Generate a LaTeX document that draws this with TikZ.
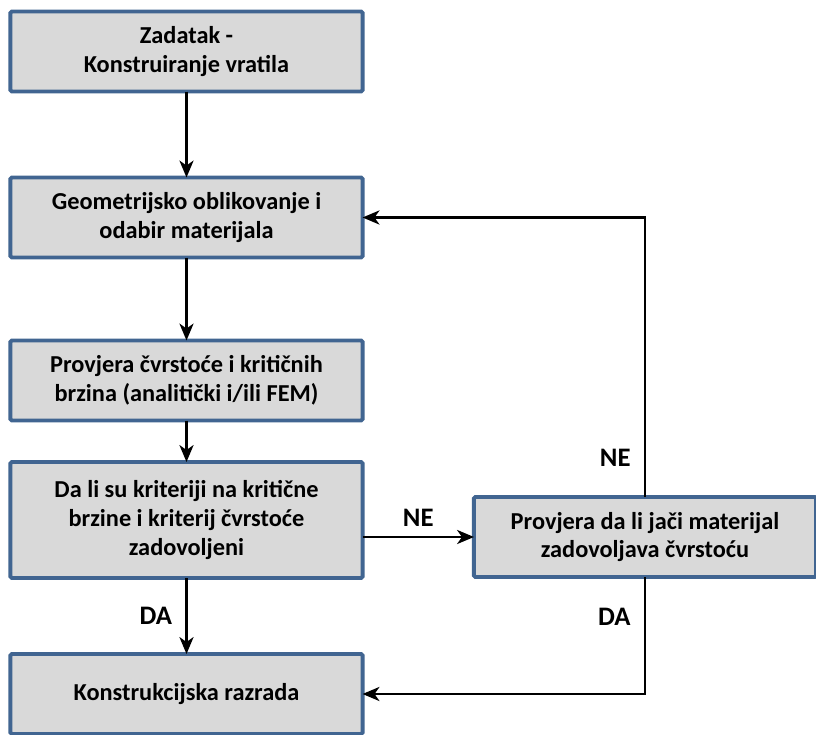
\documentclass[tikz,border=0pt]{standalone}
\usepackage{fontspec}
\setmainfont{Carlito}
\usepackage{tikz}
\usetikzlibrary{arrows.meta, positioning, calc}
\definecolor{okvirplava}{RGB}{65, 101, 145}
\definecolor{poljesiva}{RGB}{217, 217, 217}

\begin{document}
\begin{tikzpicture}[x=0.025cm, y=-0.025cm,
    korak/.style={draw=okvirplava, fill=poljesiva, line width=2.8pt, rounded corners=1pt,
      minimum width=8.8cm, minimum height=2cm, align=center, outer sep=0pt,
      font=\fontsize{17.3}{20.5}\selectfont\bfseries},
    strelica/.style={line width=1.8pt, -{Stealth[length=12pt, width=10pt, inset=3.5pt]}},
    oznaka/.style={font=\fontsize{19}{22}\selectfont\bfseries}]
  \useasboundingbox (0,0) rectangle (816,735);

  % Koraci postupka
  \node[korak] (zadatak) at (186.5, 51.5) {Zadatak -\\Konstruiranje vratila};
  \node[korak] (oblik) at (186.5, 217.5) {Geometrijsko oblikovanje i\\odabir materijala};
  \node[korak] (provjera) at (186.5, 380.5) {Provjera čvrstoće i kritičnih\\brzina (analitički i/ili FEM)};
  \node[korak, minimum height=2.9cm] (kriterij) at (186.5, 520) {Da li su kriteriji na kritične\\brzine i kriterij čvrstoće\\zadovoljeni};
  \node[korak] (razrada) at (186.5, 694) {Konstrukcijska razrada};
  \node[korak, minimum width=8.55cm] (materijal) at (645, 537) {Provjera da li jači materijal\\zadovoljava čvrstoću};

  % Veze
  \draw[strelica] (zadatak) -- (oblik);
  \draw[strelica] (oblik) -- (provjera);
  \draw[strelica] (provjera) -- (kriterij);
  \draw[strelica] (kriterij) -- node[oznaka, left=6pt] {DA} (razrada);
  \draw[strelica] (materijal.west -| kriterij.east) -- node[oznaka, above=3pt] {NE} (materijal.west);
  \draw[strelica] (materijal.north) |- node[oznaka, pos=0.07, left=6pt] {NE} (oblik.east);
  \draw[strelica] (materijal.south) |- node[oznaka, pos=0.17, left=6pt] {DA} (razrada.east);
\end{tikzpicture}
\end{document}
